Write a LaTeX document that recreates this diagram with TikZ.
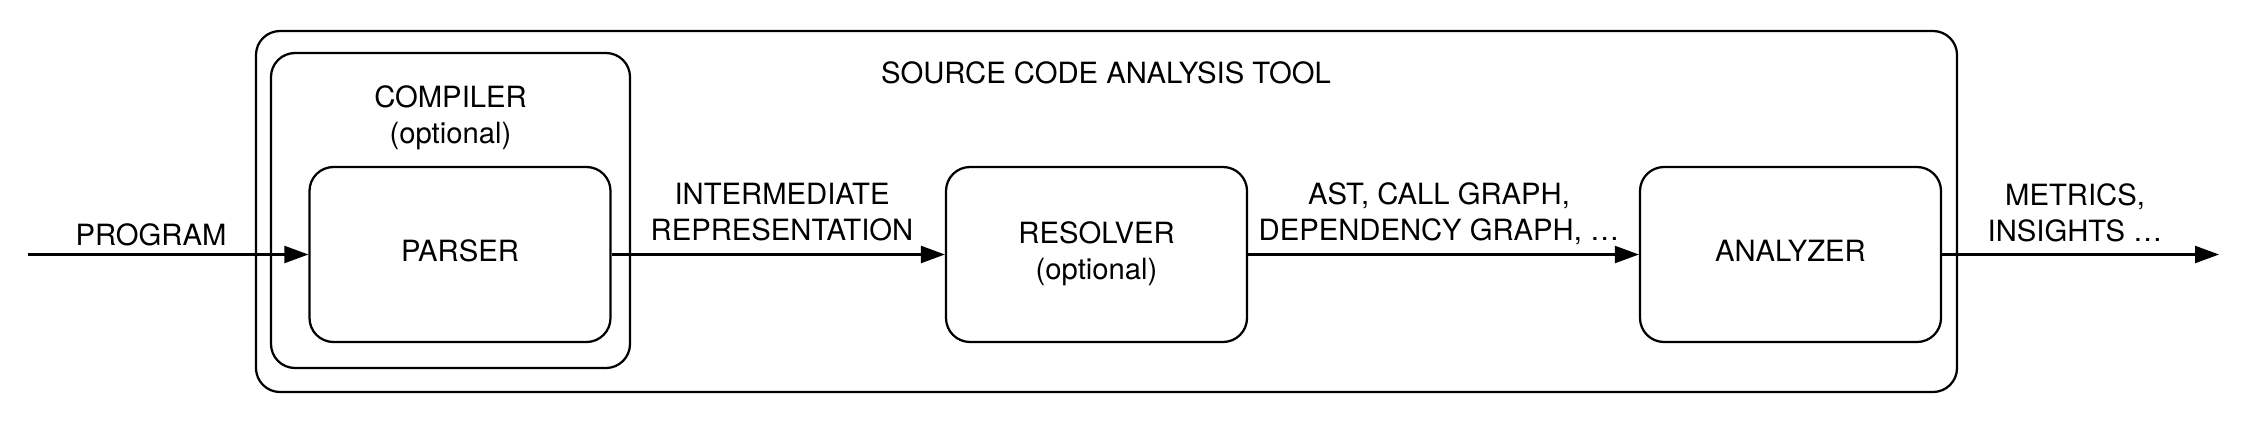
\documentclass[tikz,border=0pt]{standalone}
\usepackage{fontspec}
\setmainfont{TeX Gyre Heros}
\usetikzlibrary{arrows.meta}
\begin{document}
\begin{tikzpicture}[x=0.4pt,y=-0.4pt,
  every node/.style={font=\fontsize{11.7pt}{14.4pt}\selectfont, inner sep=0pt, align=center},
  frame/.style={draw, line width=0.9pt, rounded corners=9.6pt},
  stepbox/.style={frame, minimum width=120.4pt, minimum height=70pt},
  flow/.style={draw, line width=0.9pt, -{Triangle[length=9.6pt,width=6.8pt]}}]
\useasboundingbox (0,0) rectangle (2250,420);
% containers
\node[frame, minimum width=680.4pt, minimum height=144.4pt] (tool) at (1106.5,211.5) {};
\node[frame, minimum width=143.6pt, minimum height=126pt] (compiler) at (450.5,210.5) {};
\node (tooltitle) at (1106,76.3) {\strut SOURCE CODE ANALYSIS TOOL};
\node (comptitle) at (450.5,118.3) {\strut COMPILER\\\strut (optional)};
% steps
\node[stepbox] (parser) at (460,254.5) {\strut PARSER};
\node[stepbox] (resolver) at (1096.5,254.5) {\strut RESOLVER\\\strut (optional)};
\node[stepbox] (analyzer) at (1790.5,254.5) {\strut ANALYZER};
% free ends
\coordinate (src) at (28,254.5);
\coordinate (sink) at (2219,254.5);
% connectors
\draw[flow] (src) -- (parser.west);
\draw[flow] (parser.east) -- (resolver.west);
\draw[flow] (resolver.east) -- (analyzer.west);
\draw[flow] (analyzer.east) -- (sink);
% connector labels
\node (lprog) at (151,238.3) {\strut PROGRAM};
\node (lir) at (782,215.3) {\strut INTERMEDIATE\\\strut REPRESENTATION};
\node (last) at (1439,215.3) {\strut AST, CALL GRAPH,\\\strut DEPENDENCY GRAPH, …};
\node (lmet) at (2075,216.3) {\strut METRICS,\\\strut INSIGHTS …};
\end{tikzpicture}
\end{document}
